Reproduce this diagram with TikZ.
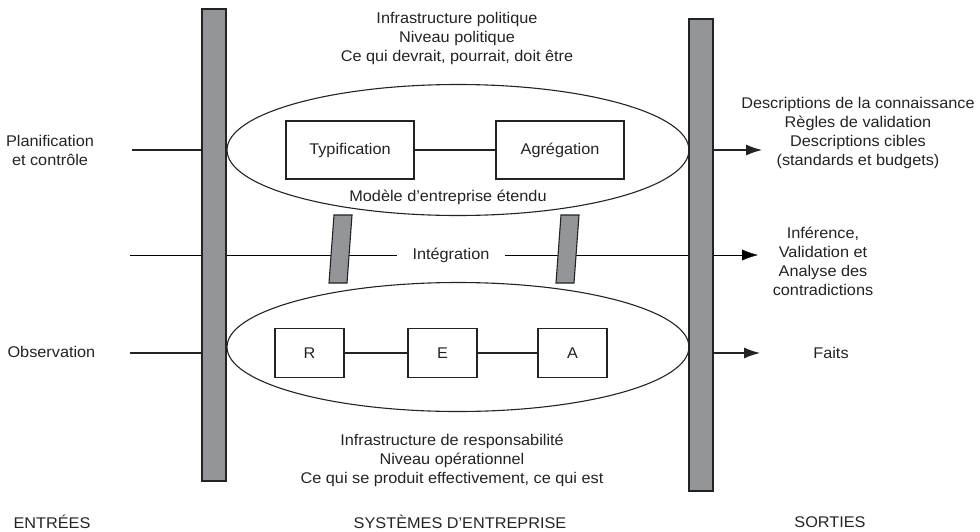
\documentclass[tikz,border=0pt]{standalone}
\usepackage{fontspec}
\setmainfont{Liberation Sans}[FakeStretch=1.05]
\usetikzlibrary{arrows.meta,shapes.geometric,backgrounds}
\definecolor{ink}{RGB}{35,35,35}
\definecolor{bargray}{RGB}{148,149,153}

\begin{document}
\begin{tikzpicture}[x=1pt,y=-1pt,>={Latex[length=16pt,width=11pt]},
                    line width=1.1pt,color=ink,
                    font=\fontsize{15.5}{19}\selectfont]
    \tikzset{bar/.style={draw,fill=bargray,minimum width=24pt,
                         minimum height=472pt,inner sep=0pt},
             level/.style={ellipse,draw,minimum width=462pt,inner sep=0pt},
             box/.style={draw,inner sep=0pt},
             txt/.style={align=center,inner sep=0pt}}
    \useasboundingbox (0,0) rectangle (980,531);
    \node[bar] (inbar) at (214,245) {};
    \node[bar] (outbar) at (701,255) {};
    \node[level,minimum height=131pt] (pol) at (458,150) {};
    \node[level,minimum height=129pt] (ops) at (458,347) {};
    \node[box,minimum width=128pt,minimum height=58pt] (typ) at (350,150) {Typification};
    \node[box,minimum width=128pt,minimum height=58pt] (agr) at (560,150) {Agrégation};
    \node[box,minimum width=69pt,minimum height=49pt] (r) at (309.5,353) {R};
    \node[box,minimum width=69pt,minimum height=49pt] (e) at (442.5,353) {E};
    \node[box,minimum width=69pt,minimum height=49pt] (a) at (572.5,353) {A};
    \node[txt,inner xsep=15pt] (integ) at (451,255) {Intégration};
    \coordinate (plan) at (132,150);
    \coordinate (obs) at (130,353);
    \coordinate (mid) at (130,255);
    \coordinate (outpol) at (762,150);
    \coordinate (outmid) at (758,255);
    \coordinate (outops) at (760,353);
    \begin{scope}[on background layer]
        \draw (mid) -- (integ.west);
        \draw[->] (integ.east) -- (outmid);
    \end{scope}
    \filldraw[fill=bargray] (334,215) -- (352,215) -- (347,283) -- (329,283) -- cycle;
    \filldraw[fill=bargray] (561,215) -- (579,215) -- (574,283) -- (556,283) -- cycle;
    \draw (typ) -- (agr);
    \draw (r) -- (e);
    \draw (e) -- (a);
    \draw (plan) -- (plan -| inbar.west);
    \draw (obs) -- (obs -| inbar.west);
    \draw[->] (outpol -| outbar.east) -- (outpol);
    \draw[->] (outops -| outbar.east) -- (outops);
    \node[txt] (poltxt) at (457,38) {Infrastructure politique\\Niveau politique\\Ce qui devrait, pourrait, doit être};
    \node[txt] (model) at (448,197) {Modèle d’entreprise étendu};
    \node[txt] (opstxt) at (452,460) {Infrastructure de responsabilité\\Niveau opérationnel\\Ce qui se produit effectivement, ce qui est};
    \node[txt] (plantxt) at (50,150) {Planification\\et contrôle};
    \node[txt,anchor=west] (obstxt) at (7,352) {Observation};
    \node[txt] (desc) at (858,133) {Descriptions de la connaissance\\Règles de validation\\Descriptions cibles\\(standards et budgets)};
    \node[txt] (infer) at (823,261) {Inférence,\\Validation et\\Analyse des\\contradictions};
    \node[txt] (faits) at (831,353) {Faits};
    \node[txt] (entrees) at (52,522) {ENTRÉES};
    \node[txt] (systemes) at (460,522) {SYSTÈMES D’ENTREPRISE};
    \node[txt] (sorties) at (830,522) {SORTIES};
\end{tikzpicture}
\end{document}
